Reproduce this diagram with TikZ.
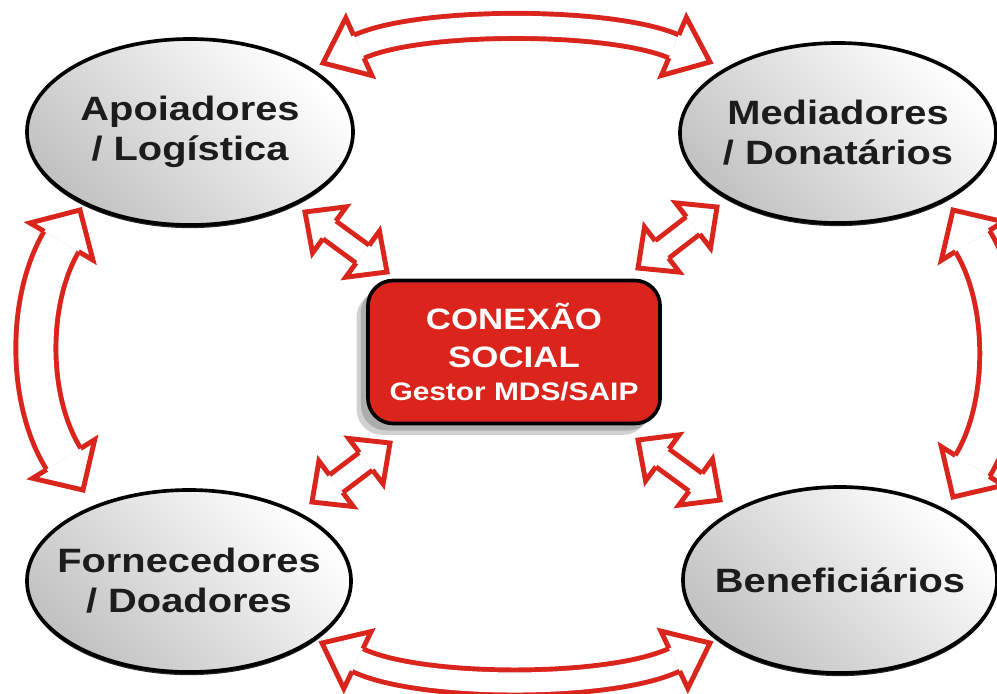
\documentclass[tikz,border=0pt]{standalone}
\usepackage{fontspec}
\setmainfont{Liberation Sans}[FakeStretch=1.18]
\usetikzlibrary{calc,shapes.geometric}

\definecolor{arrowred}{RGB}{218,37,29}
\definecolor{boxred}{RGB}{218,36,28}
\definecolor{inkgray}{RGB}{28,28,28}

\def\rim{3.5pt}
% head length, half head width, half shaft width, shaft inside
\newcommand\setH{\def\headlen{28pt}\def\headhalf{22.5pt}\def\shafthalf{8.9pt}\def\dd{14.3pt}}
\newcommand\setV{\def\headlen{26pt}\def\headhalf{26pt}\def\shafthalf{14.2pt}\def\dd{25pt}}
\newcommand\setD{\def\headlen{21.5pt}\def\headhalf{20.3pt}\def\shafthalf{7.8pt}\def\dd{12.1pt}}

% open head at tip #1, pointing away from #2
\newcommand\headat[2]{%
  \coordinate (hb) at ($(#1)!\headlen!(#2)$);
  \fill[white] ($(hb)!\shafthalf!90:(#1)$) -- ($(hb)!\headhalf!90:(#1)$) -- (#1)
     -- ($(hb)!\headhalf!-90:(#1)$) -- ($(hb)!\shafthalf!-90:(#1)$) -- cycle;
  \draw[arrowred, line width=\rim, line join=miter] ($(hb)!\shafthalf!90:(#1)$)
     -- ($(hb)!\headhalf!90:(#1)$) -- (#1) -- ($(hb)!\headhalf!-90:(#1)$)
     -- ($(hb)!\shafthalf!-90:(#1)$);}

\tikzset{
  actor/.style={ellipse, draw=black, line width=2.6pt, inner sep=-15pt, align=center,
    top color=black!24, bottom color=white, shading angle=135,
    font=\fontsize{24}{28.5}\selectfont\bfseries, text=inkgray,
    preaction={fill=black!85, transform canvas={yshift=-2.2pt}}},
  hub/.style={rectangle, rounded corners=18pt, draw=black, line width=2.6pt, fill=boxred,
    minimum width=7.3cm, minimum height=3.575cm, align=center, text=white,
    font=\fontsize{21}{26.5}\selectfont\bfseries,
    preaction={fill=black!18, transform canvas={xshift=-8pt, yshift=-8pt}},
    preaction={fill=black!32, transform canvas={xshift=-5pt, yshift=-5pt}}},
  shaft/.style={draw=arrowred, line width=\rim, double=white, double distance=\dd,
    shorten <=\headlen, shorten >=\headlen}
}

\begin{document}
\begin{tikzpicture}[x=0.025cm, y=-0.025cm]
\useasboundingbox (0,0) rectangle (997,693);
\clip (0,0) rectangle (997,693);

% the four partners
\node[actor, minimum width=8.15cm, minimum height=4.65cm] (apo) at (190,132) {Apoiadores\\/ Logística};
\node[actor, minimum width=7.9cm, minimum height=4.5cm] (med) at (838,133) {Mediadores\\/ Donatários};
\node[actor, minimum width=8.1cm, minimum height=4.55cm] (forn) at (189,581) {Fornecedores\\/ Doadores};
\node[actor, minimum width=7.85cm, minimum height=4.65cm] (benef) at (840,580) {Beneficiários};

% centre
\node[hub] (conex) at (514,352) {CONEXÃO\\SOCIAL\\[-3pt]{\fontsize{18}{22}\selectfont Gestor MDS/SAIP}};

% big curved ones
\coordinate (topL) at (323,63);   \coordinate (topR) at (710,62);
\coordinate (tc1) at (420,19);    \coordinate (tc2) at (610,19);
\coordinate (botL) at (322,643);  \coordinate (botR) at (710,643);
\coordinate (bc1) at (420,690);   \coordinate (bc2) at (610,690);
\coordinate (lefT) at (80,210);   \coordinate (lefB) at (83,490);
\coordinate (lc1) at (27,300);    \coordinate (lc2) at (27,400);
\coordinate (rigT) at (953,210);  \coordinate (rigB) at (953,497);
\coordinate (rc1) at (1009,300);  \coordinate (rc2) at (1009,407);

\setH
\draw[shaft] (topL) .. controls (tc1) and (tc2) .. (topR);
\headat{topL}{tc1} \headat{topR}{tc2}
\draw[shaft] (botL) .. controls (bc1) and (bc2) .. (botR);
\headat{botL}{bc1} \headat{botR}{bc2}
\setV
\draw[shaft] (lefT) .. controls (lc1) and (lc2) .. (lefB);
\headat{lefT}{lc1} \headat{lefB}{lc2}
\draw[shaft] (rigT) .. controls (rc1) and (rc2) .. (rigB);
\headat{rigT}{rc1} \headat{rigB}{rc2}

% short ones to the centre
\coordinate (d1a) at (305,212); \coordinate (d1b) at (387,272);
\coordinate (d2a) at (717,207); \coordinate (d2b) at (638,268);
\coordinate (d3a) at (312,502); \coordinate (d3b) at (390,443);
\coordinate (d4a) at (720,500); \coordinate (d4b) at (638,440);
\setD
\foreach \a/\b in {d1a/d1b, d2a/d2b, d3a/d3b, d4a/d4b}{
  \draw[shaft] (\a) -- (\b);
  \headat{\a}{\b} \headat{\b}{\a}
}

\end{tikzpicture}
\end{document}
